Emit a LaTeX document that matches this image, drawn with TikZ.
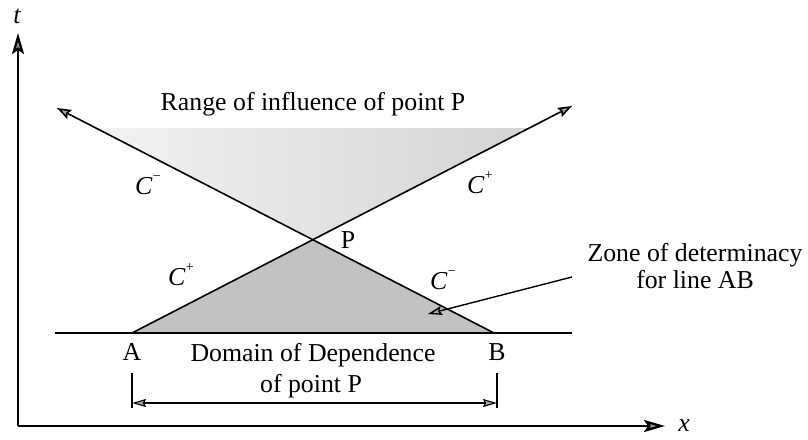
\documentclass[tikz,border=0pt]{standalone}
\usepackage{fontspec}
\setmainfont{Liberation Serif}
\usetikzlibrary{arrows.meta}
\begin{document}
\begin{tikzpicture}[x=1pt,y=-1pt,
  font=\fontsize{25.8}{27}\selectfont,
  axisline/.style={line width=2.3pt,-{Stealth[length=21pt,width=12pt,inset=4pt,fill=gray!75]}},
  charline/.style={line width=1.6pt,-{Stealth[length=14pt,width=10pt,inset=2pt,fill=gray!70]}},
  plainline/.style={line width=1.8pt},
  dimline/.style={line width=1.1pt,{Stealth[length=14pt,width=8pt,inset=2pt,fill=gray!70]}-{Stealth[length=14pt,width=8pt,inset=2pt,fill=gray!70]}},
  lbl/.style={inner sep=0pt}]
\useasboundingbox (0,0) rectangle (808,439);
% key points
\coordinate (O) at (18,426);
\coordinate (T) at (18,33);
\coordinate (X) at (665,426);
\coordinate (P) at (313,240);
\coordinate (A) at (132,333);
\coordinate (B) at (494,333);
\coordinate (L) at (57,108);
\coordinate (R) at (572,106);
\coordinate (AB0) at (55,333);
\coordinate (AB1) at (572,333);
\coordinate (UL) at (97,128);
\coordinate (UR) at (529,128);
\coordinate (ZS) at (572,277);
\coordinate (ZE) at (428,314);
\coordinate (TA0) at (132,373);
\coordinate (TA1) at (132,408);
\coordinate (TB0) at (497,373);
\coordinate (TB1) at (497,408);
\coordinate (DA) at (132,403);
\coordinate (DB) at (497,403);
% shaded regions
\shade[left color=gray!10,middle color=gray!30,right color=gray!34] (UL) -- (UR) -- (P) -- cycle;
\fill[gray!48] (A) -- (P) -- (B) -- cycle;
% axes
\draw[axisline] (O) -- (T);
\draw[axisline] (O) -- (X);
\node[lbl] (tl) at (17,16) {\itshape t};
\node[lbl] (xl) at (684,426) {\itshape x};
% line AB
\draw[plainline] (AB0) -- (AB1);
% characteristics
\draw[charline] (A) -- (R);
\draw[charline] (B) -- (L);
% labels
\node[lbl] (range) at (313,104) {Range of influence of point P};
\node[lbl] (cm1) at (148,185) {\itshape C\kern0.5pt\raisebox{0.55em}{\upshape\fontsize{14}{14}\selectfont −}};
\node[lbl] (cp1) at (480,183) {\itshape C\kern0.5pt\raisebox{0.55em}{\upshape\fontsize{14}{14}\selectfont +}};
\node[lbl] (cp2) at (181,275) {\itshape C\kern0.5pt\raisebox{0.55em}{\upshape\fontsize{14}{14}\selectfont +}};
\node[lbl] (cm2) at (443,280) {\itshape C\kern0.5pt\raisebox{0.55em}{\upshape\fontsize{14}{14}\selectfont −}};
\node[lbl] (pl) at (348,240) {P};
\node[lbl] (al) at (132,352) {A};
\node[lbl] (bl) at (497,352) {B};
\node[lbl] (dom) at (313,355) {Domain of Dependence};
\node[lbl] (dom2) at (311,386) {of point P};
\node[lbl,align=center] (zone) at (695,266) {Zone of determinacy\\for line AB};
% zone arrow
\draw[line width=1.4pt,-{Stealth[length=14pt,width=9pt,inset=2pt,fill=gray!70]}] (ZS) -- (ZE);
% dimension
\draw[line width=1.1pt] (TA0) -- (TA1);
\draw[line width=1.1pt] (TB0) -- (TB1);
\draw[dimline] (DA) -- (DB);
\end{tikzpicture}
\end{document}
